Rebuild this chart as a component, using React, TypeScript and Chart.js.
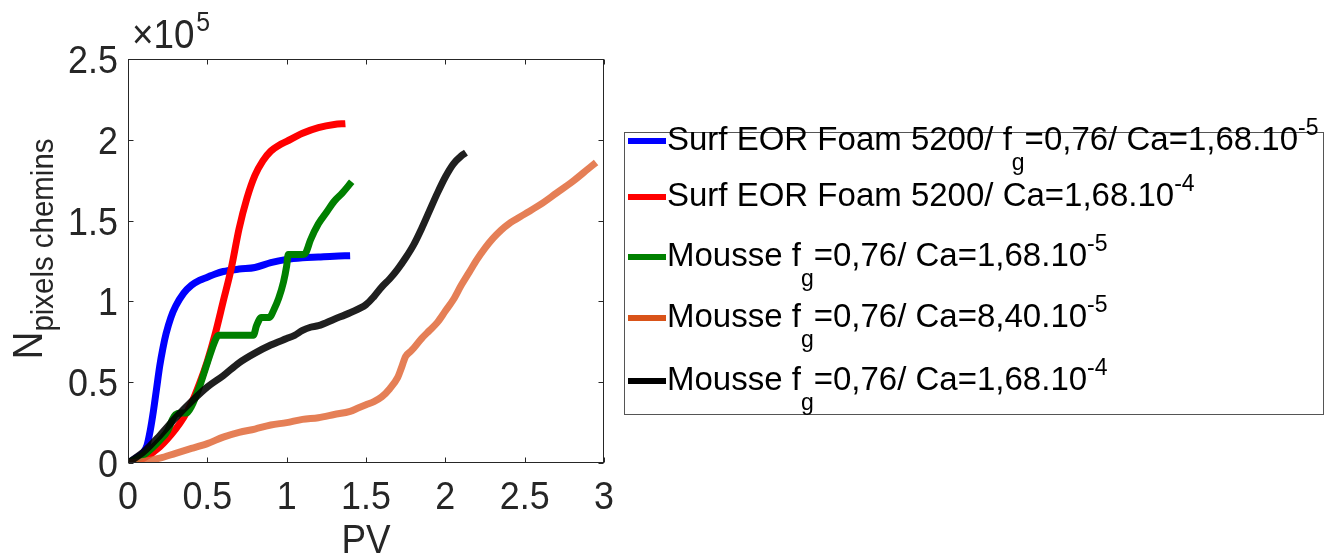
import React, { useEffect, useRef } from "react";
import { Chart, registerables } from "chart.js";

Chart.register(...registerables);

// ---------- data (N in units of 1e5) ----------
const pvBlue = [0, 0.05, 0.1, 0.12, 0.14, 0.16, 0.18, 0.2, 0.22, 0.24, 0.27, 0.3, 0.35, 0.4, 0.45, 0.5, 0.55, 0.6, 0.7, 0.8, 0.9, 1.0, 1.1, 1.2, 1.3, 1.4];
const nBlue = [0, 0.03, 0.07, 0.11, 0.2, 0.32, 0.46, 0.6, 0.71, 0.8, 0.9, 0.97, 1.05, 1.1, 1.13, 1.15, 1.17, 1.185, 1.2, 1.21, 1.24, 1.26, 1.27, 1.275, 1.28, 1.283];

const pvRed = [0, 0.1, 0.2, 0.3, 0.35, 0.4, 0.45, 0.5, 0.55, 0.6, 0.65, 0.7, 0.75, 0.8, 0.85, 0.9, 0.95, 1.0, 1.1, 1.2, 1.3, 1.37];
const nRed = [0, 0.03, 0.1, 0.21, 0.28, 0.37, 0.49, 0.63, 0.8, 1.0, 1.2, 1.45, 1.64, 1.78, 1.87, 1.93, 1.965, 1.99, 2.04, 2.075, 2.095, 2.1];

const pvGreen = [0, 0.1, 0.2, 0.25, 0.28, 0.3, 0.33, 0.37, 0.4, 0.45, 0.5, 0.55, 0.57, 0.6, 0.7, 0.79, 0.81, 0.84, 0.89, 0.92, 0.95, 0.98, 1.0, 1.01, 1.03, 1.1, 1.12, 1.15, 1.2, 1.25, 1.3, 1.35, 1.41];
const nGreen = [0, 0.05, 0.14, 0.2, 0.27, 0.3, 0.31, 0.31, 0.35, 0.47, 0.62, 0.76, 0.79, 0.79, 0.79, 0.79, 0.85, 0.9, 0.9, 0.95, 1.02, 1.12, 1.22, 1.29, 1.29, 1.29, 1.3, 1.38, 1.48, 1.55, 1.62, 1.67, 1.74];

const pvOrange = [0, 0.1, 0.2, 0.3, 0.4, 0.5, 0.6, 0.7, 0.8, 0.9, 1.0, 1.1, 1.2, 1.3, 1.4, 1.45, 1.5, 1.55, 1.6, 1.65, 1.7, 1.72, 1.75, 1.78, 1.8, 1.85, 1.9, 1.95, 2.0, 2.05, 2.1, 2.15, 2.2, 2.25, 2.3, 2.35, 2.4, 2.5, 2.6, 2.7, 2.8, 2.9, 2.95];
const nOrange = [0, 0.01, 0.03, 0.06, 0.09, 0.12, 0.16, 0.19, 0.21, 0.235, 0.25, 0.27, 0.28, 0.3, 0.32, 0.34, 0.36, 0.38, 0.41, 0.46, 0.53, 0.58, 0.66, 0.69, 0.71, 0.77, 0.82, 0.87, 0.94, 1.01, 1.1, 1.18, 1.26, 1.33, 1.39, 1.44, 1.48, 1.54, 1.6, 1.67, 1.74, 1.82, 1.86];

const pvBlack = [0, 0.1, 0.2, 0.3, 0.4, 0.5, 0.6, 0.7, 0.8, 0.9, 1.0, 1.05, 1.1, 1.15, 1.2, 1.3, 1.4, 1.5, 1.55, 1.6, 1.65, 1.7, 1.75, 1.8, 1.85, 1.9, 1.95, 2.0, 2.05, 2.1, 2.13];
const nBlack = [0, 0.07, 0.17, 0.28, 0.38, 0.47, 0.54, 0.62, 0.68, 0.73, 0.77, 0.79, 0.82, 0.84, 0.85, 0.89, 0.93, 0.98, 1.03, 1.09, 1.14, 1.2, 1.27, 1.35, 1.45, 1.56, 1.67, 1.77, 1.85, 1.9, 1.92];

const xTicks = [0, 0.5, 1, 1.5, 2, 2.5, 3];
const yTicks = [0, 0.5, 1, 1.5, 2, 2.5];

const seriesColors = ["#0000FF", "#FF0000", "#008000", "rgba(224,104,56,0.85)", "rgba(0,0,0,0.88)"];
const legendColors = ["#0000FF", "#FF0000", "#008000", "#D95319", "#000000"];

// label parts: [text, subscript, text, superscript]
const legendLabels = [
  ["Surf EOR Foam 5200/ f", "g", "=0,76/ Ca=1,68.10", "-5"],
  ["Surf EOR Foam 5200/ Ca=1,68.10", "", "", "-4"],
  ["Mousse f", "g", "=0,76/ Ca=1,68.10", "-5"],
  ["Mousse f", "g", "=0,76/ Ca=8,40.10", "-5"],
  ["Mousse f", "g", "=0,76/ Ca=1,68.10", "-4"],
];
const legendLineY = [141, 197, 257, 318, 381];

const FONT = "'Liberation Sans', Arial, Helvetica, sans-serif";
const TXT = "#262626";
const SX = 0.92; // horizontal squeeze of axis text

const zip = (xs: number[], ys: number[]) => xs.map((x, i) => ({ x, y: ys[i] }));

const framePlugin = {
  id: "frame",
  afterDraw(chart: any) {
    const { ctx, chartArea: a, scales } = chart;
    ctx.save();
    ctx.strokeStyle = TXT;
    ctx.lineWidth = 1;
    const L = Math.round(a.left) + 0.5;
    const R = Math.round(a.right) - 0.5;
    const T = Math.round(a.top) + 0.5;
    const B = Math.round(a.bottom) - 0.5;
    ctx.strokeRect(L, T, R - L, B - T);
    const tl = 5;
    ctx.beginPath();
    for (const v of xTicks) {
      const x = Math.round(scales.x.getPixelForValue(v)) + 0.5;
      ctx.moveTo(x, B); ctx.lineTo(x, B - tl);
      ctx.moveTo(x, T); ctx.lineTo(x, T + tl);
    }
    for (const v of yTicks) {
      const y = Math.round(scales.y.getPixelForValue(v)) + 0.5;
      ctx.moveTo(L, y); ctx.lineTo(L + tl, y);
      ctx.moveTo(R, y); ctx.lineTo(R - tl, y);
    }
    ctx.stroke();

    ctx.fillStyle = TXT;
    ctx.textBaseline = "alphabetic";

    // tick labels
    ctx.font = `39px ${FONT}`;
    for (const v of xTicks) {
      const x = scales.x.getPixelForValue(v);
      ctx.save();
      ctx.translate(x, 509);
      ctx.scale(SX, 1);
      ctx.textAlign = "center";
      ctx.fillText(String(v), 0, 0);
      ctx.restore();
    }
    for (const v of yTicks) {
      const y = scales.y.getPixelForValue(v);
      ctx.save();
      ctx.translate(a.left - 10, y + 14);
      ctx.scale(SX, 1);
      ctx.textAlign = "right";
      ctx.fillText(String(v), 0, 0);
      ctx.restore();
    }

    // exponent ×10^5
    ctx.save();
    ctx.translate(a.left + 4, a.top - 11);
    ctx.scale(SX, 1);
    ctx.textAlign = "left";
    ctx.font = `40px ${FONT}`;
    ctx.fillText("×10", 0, 0);
    const w10 = ctx.measureText("×10").width;
    ctx.font = `27px ${FONT}`;
    ctx.fillText("5", w10 + 2, -17);
    ctx.restore();

    // x title
    ctx.save();
    ctx.translate((a.left + a.right) / 2, 553);
    ctx.scale(SX, 1);
    ctx.font = `40px ${FONT}`;
    ctx.textAlign = "center";
    ctx.fillText("PV", 0, 0);
    ctx.restore();

    // y title (rotated)
    ctx.save();
    ctx.translate(42, 249);
    ctx.rotate(-Math.PI / 2);
    ctx.scale(SX, 1);
    ctx.textAlign = "left";
    ctx.font = `42px ${FONT}`;
    const wN = ctx.measureText("N").width;
    ctx.font = `32px ${FONT}`;
    const wS = ctx.measureText("pixels chemins").width;
    const start = -(wN + wS) / 2;
    ctx.font = `42px ${FONT}`;
    ctx.fillText("N", start, 0);
    ctx.font = `32px ${FONT}`;
    ctx.fillText("pixels chemins", start + wN, 11);
    ctx.restore();

    ctx.restore();
  },
};

export default function App() {
  const ref = useRef<HTMLCanvasElement | null>(null);

  useEffect(() => {
    if (!ref.current) return;
    const sets = [
      zip(pvBlue, nBlue),
      zip(pvRed, nRed),
      zip(pvGreen, nGreen),
      zip(pvOrange, nOrange),
      zip(pvBlack, nBlack),
    ];
    const chart = new Chart(ref.current, {
      type: "line",
      data: {
        datasets: sets.map((d, i) => ({
          label: legendLabels[i].join(""),
          data: d,
          borderColor: seriesColors[i],
          backgroundColor: seriesColors[i],
          borderWidth: 7,
          pointRadius: 0,
          cubicInterpolationMode: "monotone",
          borderJoinStyle: "round",
          fill: false,
          order: 4 - i,
        })),
      },
      options: {
        animation: false,
        responsive: false,
        maintainAspectRatio: false,
        layout: { padding: { top: 59, right: 734, left: 0, bottom: 0 } },
        plugins: { legend: { display: false }, tooltip: { enabled: false } },
        scales: {
          x: {
            type: "linear",
            min: 0,
            max: 3,
            afterBuildTicks: (s: any) => { s.ticks = xTicks.map((v) => ({ value: v })); },
            afterFit: (s: any) => { s.height = 94; },
            grid: { display: false, drawTicks: false },
            border: { display: false },
            ticks: { display: false },
          },
          y: {
            type: "linear",
            min: 0,
            max: 2.5,
            afterBuildTicks: (s: any) => { s.ticks = yTicks.map((v) => ({ value: v })); },
            afterFit: (s: any) => { s.width = 128; },
            grid: { display: false, drawTicks: false },
            border: { display: false },
            ticks: { display: false },
          },
        },
      },
      plugins: [framePlugin],
    } as any);
    return () => chart.destroy();
  }, []);

  return (
    <div style={{ position: "fixed", left: 0, top: 0, width: 1338, height: 557, background: "#fff" }}>
      <canvas ref={ref} width={1338} height={557} style={{ position: "absolute", left: 0, top: 0, width: 1338, height: 557 }} />
      <div
        style={{
          position: "absolute",
          left: 624,
          top: 132,
          width: 700,
          height: 283,
          border: "1px solid #555",
          boxSizing: "border-box",
          background: "#fff",
        }}
      />
      {legendLabels.map((parts, i) => (
        <React.Fragment key={i}>
          <div
            style={{
              position: "absolute",
              left: 628,
              top: legendLineY[i] - 3,
              width: 38,
              height: 6,
              background: legendColors[i],
            }}
          />
          <div
            style={{
              position: "absolute",
              left: 667,
              top: legendLineY[i] + 9 - 27,
              fontFamily: FONT,
              fontSize: 33,
              lineHeight: "32px",
              color: "#000",
              whiteSpace: "nowrap",
            }}
          >
            {parts[0]}
            {parts[1] ? (
              <span style={{ fontSize: 23, position: "relative", top: 20 }}>{parts[1]}</span>
            ) : null}
            {parts[2]}
            {parts[3] ? (
              <span style={{ fontSize: 23, position: "relative", top: -15 }}>{parts[3]}</span>
            ) : null}
          </div>
        </React.Fragment>
      ))}
    </div>
  );
}
